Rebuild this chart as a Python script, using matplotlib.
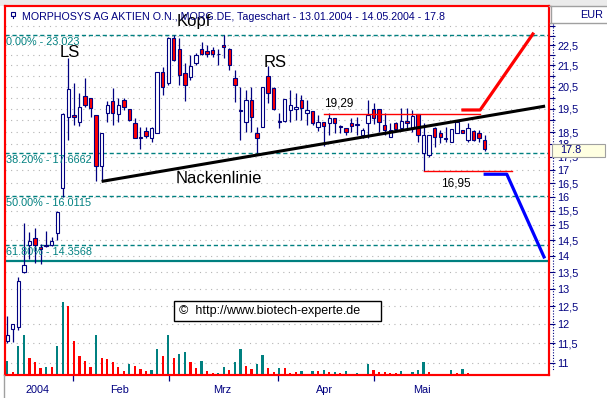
import matplotlib
matplotlib.use("Agg")
import matplotlib.pyplot as plt
from matplotlib.lines import Line2D
from matplotlib.patches import Rectangle
from matplotlib.ticker import FixedLocator, FixedFormatter, NullFormatter

plt.rcParams['font.family'] = ['Liberation Sans', 'DejaVu Sans']

NAVY = '#000080'
TEAL = '#008080'
RED = '#ff0000'
W, H = 607, 398

# daily candles 13.01.2004 - 14.05.2004, x = trading day index
opens = [11.56, 11.87, 11.94, 13.51, 14.35, 14.59, 14.30, 14.35, 14.35, 14.73,
         16.30, 19.16, 19.23, 18.94, 20.07, 19.97, 19.23, 17.15, 19.30, 19.85,
         19.26, 19.89, 19.48, 18.87, 18.29, 18.55, 18.25, 18.47, 21.17, 20.65,
         22.85, 22.29, 21.12, 20.93, 21.60, 22.31, 22.20, 22.26, 22.08, 22.51,
         22.31, 20.89, 19.45, 18.94, 19.89, 18.47, 18.73, 20.99, 20.44, 18.97,
         18.97, 19.45, 19.48, 19.89, 19.30, 19.40, 18.73, 18.91, 18.87, 19.09,
         18.77, 18.66, 18.90, 18.80, 18.38, 18.87, 19.48, 19.48, 18.80, 18.29,
         18.87, 18.66, 18.98, 18.66, 19.26, 17.64, 17.57, 18.66, 18.45, 18.20,
         18.11, 18.47, 18.59, 18.18, 18.55, 18.47, 18.18]
highs = [12.23, 12.02, 13.36, 15.09, 14.77, 14.92, 14.40, 14.82, 14.60, 15.50,
         19.30, 21.86, 20.65, 20.23, 20.89, 20.00, 19.25, 18.45, 19.85, 20.42,
         19.97, 19.97, 19.50, 19.09, 18.73, 18.73, 18.70, 21.20, 21.44, 22.90,
         23.02, 22.85, 21.60, 22.01, 22.12, 22.69, 22.51, 22.43, 22.29, 23.01,
         22.35, 21.28, 20.49, 20.34, 20.49, 18.73, 20.50, 21.47, 20.46, 19.30,
         19.95, 20.34, 20.20, 20.12, 19.89, 19.42, 19.23, 18.95, 19.30, 19.12,
         18.80, 18.68, 19.09, 19.16, 18.66, 19.89, 19.74, 19.50, 19.30, 18.87,
         18.94, 19.52, 19.52, 19.45, 19.29, 18.87, 18.40, 18.73, 18.59, 18.73,
         18.63, 19.01, 18.60, 18.90, 18.59, 18.59, 18.38]
lows = [11.51, 11.53, 11.85, 13.48, 13.90, 13.77, 13.75, 14.30, 14.33, 14.51,
        16.00, 18.18, 18.80, 18.76, 19.57, 19.16, 16.57, 16.57, 18.94, 18.80,
        18.94, 19.45, 18.98, 18.25, 17.80, 18.25, 18.11, 18.45, 20.12, 20.57,
        21.70, 20.57, 19.85, 20.81, 21.52, 22.01, 21.90, 21.90, 21.52, 21.86,
        21.28, 19.81, 18.18, 18.52, 18.52, 17.64, 18.70, 19.78, 19.45, 18.66,
        18.95, 18.94, 19.01, 19.01, 18.80, 18.80, 18.55, 17.93, 18.38, 18.45,
        18.45, 18.38, 18.52, 18.38, 18.25, 18.25, 18.84, 18.52, 18.38, 18.29,
        18.59, 18.59, 18.63, 18.52, 18.11, 16.95, 17.48, 17.90, 18.04, 18.11,
        18.10, 18.45, 18.47, 18.11, 18.15, 18.11, 17.75]
closes = [11.72, 12.00, 13.23, 13.72, 14.48, 14.35, 14.22, 14.32, 14.48, 15.47,
          19.26, 20.37, 19.13, 19.57, 19.67, 19.52, 17.15, 18.45, 19.67, 19.33,
          19.67, 19.57, 19.01, 18.25, 18.25, 18.34, 18.66, 21.17, 20.49, 22.85,
          21.76, 21.04, 20.57, 21.47, 22.01, 22.07, 22.05, 22.04, 22.05, 22.40,
          21.52, 20.57, 19.40, 19.89, 19.16, 18.25, 20.49, 20.20, 19.48, 18.93,
          19.92, 19.67, 19.57, 19.52, 19.45, 18.87, 18.94, 18.76, 19.09, 18.87,
          18.73, 18.52, 18.76, 18.85, 18.59, 19.23, 19.09, 18.94, 18.59, 18.59,
          18.63, 18.98, 18.87, 19.19, 18.38, 18.38, 18.38, 18.32, 18.32, 18.25,
          18.62, 18.94, 18.47, 18.66, 18.18, 18.25, 17.80]

# volume in 1000 shares, colour flag 1 = teal, 0 = red
volumes = [168, 40, 348, 480, 204, 156, 84, 96, 96, 348,
           876, 828, 408, 228, 168, 96, 480, 204, 192, 156,
           96, 48, 132, 108, 68, 48, 60, 312, 228, 480,
           204, 252, 276, 156, 84, 168, 48, 24, 24, 96,
           60, 156, 312, 108, 72, 132, 240, 84, 36, 84,
           84, 28, 36, 48, 16, 48, 48, 60, 40, 36,
           24, 48, 16, 24, 12, 132, 60, 36, 40, 24,
           24, 48, 12, 36, 60, 156, 36, 12, 12, 12,
           60, 24, 72, 24, 12]
vol_up = [1, 0, 1, 1, 0, 0, 0, 1, 0, 1,
          1, 0, 0, 0, 0, 0, 1, 0, 0, 0,
          0, 0, 1, 0, 0, 0, 1, 1, 0, 1,
          0, 1, 1, 0, 0, 1, 0, 0, 1, 1,
          0, 1, 1, 0, 0, 1, 1, 0, 0, 1,
          0, 0, 0, 1, 0, 1, 0, 1, 0, 1,
          0, 1, 0, 1, 0, 1, 0, 0, 0, 0,
          0, 1, 0, 1, 1, 1, 0, 0, 1, 0,
          1, 0, 1, 0, 0]

fib_levels = [23.023, 17.6662, 16.0115, 14.3568]
fib_labels = ['0.00% - 23.023', '38.20% - 17.6662', '50.00% - 16.0115', '61.80% - 14.3568']
support = 13.85

neck_x = [17, 96.9]
neck_y = [16.56, 19.62]
top_x, top_y = [57.1, 85.2], [19.29, 19.29]
bottom_x, bottom_y = [75, 90.9], [16.95, 16.95]
up_x, up_y = [82.1, 85.2, 94.7], [19.45, 19.45, 23.08]
down_x, down_y = [86.1, 90.0, 96.7], [16.83, 16.83, 13.97]

month_bounds = [11.84, 29.14, 48.77, 66.07]
month_pos = [5.53, 20.3, 38.7, 57.1, 74.7]
month_names = ['2004', 'Feb', 'Mrz', 'Apr', 'Mai']

tick_vals = [22.5, 21.5, 20.5, 19.5, 18.5, 18, 17.5, 17, 16.5, 16, 15.5, 15,
             14.5, 14, 13.5, 13, 12.5, 12, 11.5, 11]
tick_labels = ['22,5', '21,5', '20,5', '19,5', '18,5', '18', '17,5', '17', '16,5', '16',
               '15,5', '15', '14,5', '14', '13,5', '13', '12,5', '12', '11,5', '11']
minor_vals = [23.5, 23, 22, 21, 20, 19]
grid_vals = [11 + 0.5 * k for k in range(26)]


def fx(px):
    return px / W


def fy(py):
    return 1 - py / H


fig = plt.figure(figsize=(W / 100, H / 100), dpi=100)
fig.patch.set_facecolor('white')
fig.add_artist(Rectangle((0, fy(6)), 1, 6 / H, transform=fig.transFigure,
                         facecolor='#ebebeb', edgecolor='none', zorder=0))

ax = fig.add_axes([fx(5), fy(375), fx(549) - fx(5), fy(6) - fy(375)])
ax_v = ax.twinx()
ax.set_yscale('log')
ax.set_xlim(-0.41, 97.6)
ax.set_ylim(10.71, 24.58)

for g in grid_vals:
    ax.axhline(g, color='#b4b4b4', lw=0.8, ls=(0, (1, 4)), zorder=0)

# candles
days = list(range(len(opens)))
ax.vlines(days, lows, highs, color=NAVY, lw=0.9, zorder=3)
body_lo = [min(o, c) for o, c in zip(opens, closes)]
body_h = [max(abs(c - o), 0.02) for o, c in zip(opens, closes)]
body_col = ['white' if c >= o else RED for o, c in zip(opens, closes)]
ax.bar(days, body_h, bottom=body_lo, width=0.6, color=body_col,
       edgecolor=NAVY, linewidth=0.8, zorder=4)

# fibonacci levels
for lev, lab in zip(fib_levels, fib_labels):
    ax.axhline(lev, color=TEAL, lw=1.0, ls=(0, (3, 2)), zorder=2)
    ax.annotate(lab, xy=(0.002, lev), xycoords=ax.get_yaxis_transform(),
                xytext=(0, -1.5), textcoords='offset points', va='top', ha='left',
                color=TEAL, fontsize=7.8, zorder=6)
ax.axhline(support, color=TEAL, lw=1.6, zorder=2)

# chart pattern lines
ax.plot(neck_x, neck_y, color='black', lw=2.2, solid_capstyle='butt', zorder=5)
ax.plot(top_x, top_y, color=RED, lw=1.0, zorder=5)
ax.plot(bottom_x, bottom_y, color=RED, lw=1.0, zorder=5)
ax.plot(up_x, up_y, color=RED, lw=2.3, zorder=5)
ax.plot(down_x, down_y, color='#0000ff', lw=2.3, zorder=5)

ax.text(11.3, 22.14, 'LS', fontsize=12, ha='center', va='center', zorder=6)
ax.text(33.55, 23.49, 'Kopf', fontsize=12, ha='center', va='baseline', zorder=6)
ax.text(48.2, 21.42, 'RS', fontsize=12, ha='center', va='baseline', zorder=6)
ax.text(38.05, 16.49, 'Nackenlinie', fontsize=12, ha='center', va='baseline', zorder=6)
ax.text(59.7, 19.62, '19,29', fontsize=8.5, ha='center', va='baseline', zorder=6)
ax.text(80.85, 16.36, '16,95', fontsize=8.5, ha='center', va='baseline', zorder=6)

ax.add_patch(Rectangle(((174 - 5) / 544, (375 - 321) / 369), 207 / 544, 20 / 369,
                       transform=ax.transAxes, facecolor='white', edgecolor='black',
                       lw=1.0, zorder=7))
ax.text((179 - 5) / 544, (375 - 311) / 369, '\u00a9  http://www.biotech-experte.de',
        transform=ax.transAxes, fontsize=9, ha='left', va='center', zorder=8)

# axes styling
for sp in ax.spines.values():
    sp.set_color(RED)
    sp.set_linewidth(1.5)
ax.yaxis.tick_right()
ax.yaxis.set_major_locator(FixedLocator(tick_vals))
ax.yaxis.set_major_formatter(FixedFormatter(tick_labels))
ax.yaxis.set_minor_locator(FixedLocator(minor_vals))
ax.yaxis.set_minor_formatter(NullFormatter())
ax.tick_params(axis='y', which='both', direction='out', color=NAVY, labelcolor=NAVY,
               labelsize=7.8, length=4, width=0.8, pad=2, left=False, labelleft=False,
               right=True, labelright=True)
ax.xaxis.set_major_locator(FixedLocator(month_bounds))
ax.xaxis.set_major_formatter(NullFormatter())
ax.xaxis.set_minor_locator(FixedLocator(month_pos))
ax.xaxis.set_minor_formatter(FixedFormatter(month_names))
ax.tick_params(axis='x', which='major', direction='out', color=NAVY, length=4, width=0.9)
ax.tick_params(axis='x', which='minor', length=0, pad=7, labelcolor=NAVY, labelsize=7.8)

# volume
ax_v.set_ylim(0, 4428)
ax_v.bar(range(len(volumes)), volumes, width=0.4,
         color=[TEAL if u else RED for u in vol_up], zorder=2)
ax_v.set_yticks([])
ax_v.tick_params(right=False, labelright=False, left=False, labelleft=False)
for sp in ax_v.spines.values():
    sp.set_color(RED)
    sp.set_linewidth(1.5)

# title and right panel
fig.add_artist(Rectangle((fx(11), fy(16)), 4 / W, 4 / H, transform=fig.transFigure,
                         facecolor='white', edgecolor=NAVY, lw=0.8))
fig.add_artist(Line2D([fx(13), fx(13)], [fy(16), fy(18)], transform=fig.transFigure,
                      color=NAVY, lw=0.8))
fig.text(fx(22), fy(19.5), 'MORPHOSYS AG AKTIEN O.N., MORG.DE, Tageschart - 13.01.2004 - 14.05.2004 - 17.8',
         color=NAVY, fontsize=7.7, ha='left', va='baseline')
fig.text(fx(592), fy(15), 'EUR', color=NAVY, fontsize=7.8, ha='center', va='center')
fig.add_artist(Line2D([fx(549), 1], [fy(6), fy(6)], transform=fig.transFigure,
                      color='#a0a0a0', lw=1))
fig.add_artist(Line2D([fx(550), 1], [fy(22.7), fy(22.7)], transform=fig.transFigure,
                      color='#a0a0a0', lw=1))
fig.add_artist(Line2D([fx(550.5), fx(550.5)], [fy(6), fy(22.7)], transform=fig.transFigure,
                      color='#a0a0a0', lw=1))
fig.add_artist(Line2D([fx(552.5), fx(552.5)], [fy(24), fy(370)], transform=fig.transFigure,
                      color=NAVY, lw=0.8, ls=(0, (1, 1.5))))
fig.add_artist(Line2D([fx(3.5), fx(3.5)], [fy(375), 0], transform=fig.transFigure,
                      color='#a0a0a0', lw=1))
fig.add_artist(Rectangle((fx(552), fy(157)), 53 / W, 13.5 / H, transform=fig.transFigure,
                         facecolor='#ffffe1', edgecolor='#a0a0a0', lw=0.8, zorder=5))
fig.text(fx(560), fy(150.3), '17.8', color=NAVY, fontsize=7.8, ha='left', va='center', zorder=6)

fig.savefig('out.png', dpi=100)
